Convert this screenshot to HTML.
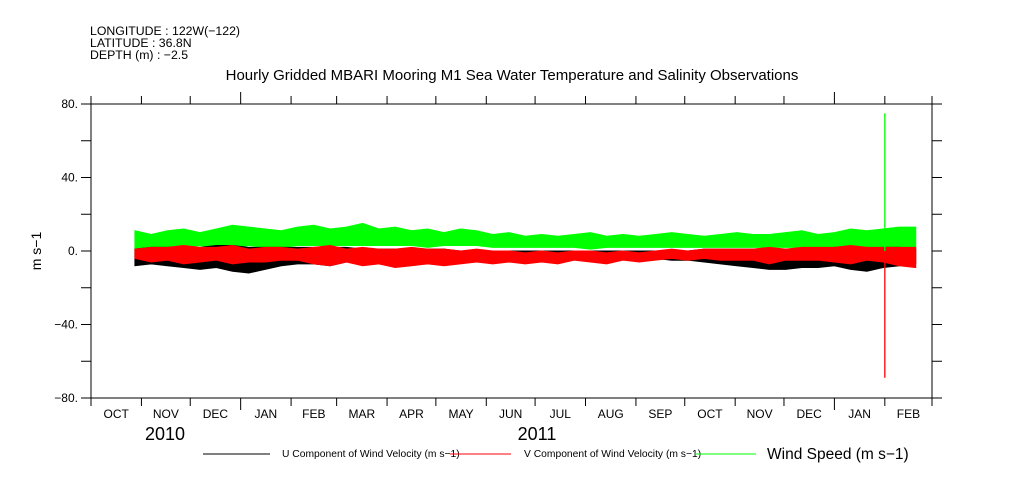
<!DOCTYPE html>
<html><head><meta charset="utf-8"><style>
body{margin:0;background:#fff;}
svg{display:block;font-family:"Liberation Sans",sans-serif;}
</style></head><body>
<svg id="c" width="1009" height="504" viewBox="0 0 1009 504">
<g font-size="12.3" fill="#000">
<text x="90" y="35">LONGITUDE : 122W(−122)</text>
<text x="90" y="47">LATITUDE : 36.8N</text>
<text x="90" y="59">DEPTH (m) : −2.5</text>
<text x="512" y="80" font-size="15" text-anchor="middle">Hourly Gridded MBARI Mooring M1 Sea Water Temperature and Salinity Observations</text>
</g>
<text x="41" y="251" font-size="14" text-anchor="middle" transform="rotate(-90 41 251)">m s−1</text>
<g id="plot"></g>
<g id="axes"></g>
<g font-size="10.3">
<line x1="203" y1="454" x2="270" y2="454" stroke="#000"/>
<text x="282" y="457">U Component of Wind Velocity (m s−1)</text>
<line x1="450" y1="454" x2="511" y2="454" stroke="#f00"/>
<text x="524" y="457">V Component of Wind Velocity (m s−1)</text>
<line x1="695" y1="454" x2="756" y2="454" stroke="#0f0"/>
<text x="767" y="459" font-size="15.5">Wind Speed (m s−1)</text>
</g>
</svg>
<script>
const startDay = 27, stepDays = 10;
const greenHi = [11,9,11,12,10,12,14,13,12,11,13,14,12,13,15,12,13,11,12,10,12,11,9,10,8,9,8,9,10,8,9,8,9,10,9,8,9,10,9,9,10,11,9,10,12,11,12,13,13];
const greenLo = [1,2,2,2,3,2,2,3,2,2,3,3,3,3,3,3,3,3,2,3,3,3,2,2,2,2,2,2,1,2,2,2,2,2,2,2,2,2,2,2,2,2,2,2,2,2,2,2,2];
const redHi = [1,2,2,3,2,2,3,1,2,2,1,2,3,1,2,1,1,2,1,1,0,1,0,0,-1,0,-1,0,0,-1,0,-1,0,1,0,1,1,1,1,2,1,2,2,2,3,2,2,2,2];
const redLo = [-4,-6,-5,-7,-6,-5,-7,-6,-6,-5,-5,-7,-8,-6,-8,-7,-9,-8,-7,-8,-7,-6,-7,-6,-7,-6,-7,-5,-6,-7,-5,-6,-5,-4,-5,-4,-5,-5,-5,-7,-5,-5,-5,-6,-7,-5,-6,-8,-9];
const blackHi = [1,2,2,2,2,3,3,2,2,2,2,2,2,2,1,1,1,1,1,1,0,0,0,0,0,0,0,0,0,0,0,0,0,0,0,1,1,1,1,1,1,1,1,2,2,1,2,2,1];
const blackLo = [-8,-7,-8,-9,-10,-9,-11,-12,-10,-8,-7,-7,-8,-6,-6,-5,-5,-5,-4,-4,-3,-3,-3,-3,-2,-2,-2,-2,-2,-3,-3,-4,-4,-5,-5,-6,-7,-8,-9,-10,-10,-9,-9,-8,-10,-11,-9,-8,-7];
const spikeDays = [488];
const spikeHi = [75];
const spikeLo = [-69];
const yTicks = [80,40,0,-40,-80];
const yTickLabels = ["80.","40.","0.","-40.","-80."];
const monthLabels = ["OCT","NOV","DEC","JAN","FEB","MAR","APR","MAY","JUN","JUL","AUG","SEP","OCT","NOV","DEC","JAN","FEB"];
const monthStarts = [0,31,61,92,123,151,182,212,243,273,304,335,365,396,426,457,488,517];
const yearLabels = ["2010","2011"];

const X0=91,X1=932,Y0=104,Y1=398,D=517;
const xs=d=>X0+(X1-X0)*d/D;
const ys=v=>251-(v)*(Y1-Y0)/160;
const NS="http://www.w3.org/2000/svg";
function mk(tag,attrs,parent){const e=document.createElementNS(NS,tag);for(const k in attrs)e.setAttribute(k,attrs[k]);parent.appendChild(e);return e;}
const plot=document.getElementById('plot'), axes=document.getElementById('axes');
function band(hi,lo,color,name){
  let pts=[];
  hi.forEach((v,i)=>pts.push(xs(startDay+i*stepDays)+','+ys(v)));
  for(let i=lo.length-1;i>=0;i--)pts.push(xs(startDay+i*stepDays)+','+ys(lo[i]));
  const p=mk('polygon',{points:pts.join(' '),fill:color,stroke:color,'stroke-width':1},plot);
  
  
}
band(greenHi,greenLo,'#00ff00','wind-speed-series');
band(blackHi,blackLo,'#000000','u-component-series');
band(redHi,redLo,'#ff0000','v-component-series');
spikeDays.forEach((d,i)=>{
  const a=mk('line',{x1:xs(d),x2:xs(d),y1:ys(spikeHi[i]),y2:ys(0),stroke:'#00ff00','stroke-width':1.3},plot);
  
  
  const b=mk('line',{x1:xs(d),x2:xs(d),y1:ys(0),y2:ys(spikeLo[i]),stroke:'#ff0000','stroke-width':1.3},plot);
  
  
});
const fr=mk('rect',{x:X0,y:Y0,width:X1-X0,height:Y1-Y0,fill:'none',stroke:'#000','stroke-width':1},axes);


for(let v=-80;v<=80;v+=20){
  const y=ys(v);
  const t=mk('line',{x1:X0-10,x2:X0,y1:y,y2:y,stroke:'#000'},axes);
  
  
  const t2=mk('line',{x1:X1,x2:X1+10,y1:y,y2:y,stroke:'#000'},axes);
  
  
}
yTicks.forEach((v,i)=>{
  const tx=mk('text',{x:X0-13,y:ys(v)+4,'text-anchor':'end','font-size':12},axes);
  tx.textContent=yTickLabels[i].replace('-','−');
  
  
});
monthStarts.forEach((d,i)=>{
  const x=xs(d);
  const big=(i===3||i===15);
  const len=big?12:8;
  const a=mk('line',{x1:x,x2:x,y1:Y1,y2:Y1+len,stroke:'#000'},axes);
  
  
  const b=mk('line',{x1:x,x2:x,y1:Y0-len,y2:Y0,stroke:'#000'},axes);
  
  
});
monthLabels.forEach((m,i)=>{
  const x=(xs(monthStarts[i])+xs(monthStarts[i+1]))/2;
  const t=mk('text',{x:x,y:418,'text-anchor':'middle','font-size':12},axes);
  t.textContent=m;
  
  
});
yearLabels.forEach((yr,i)=>{
  const t=mk('text',{x:i===0?165:537,y:440,'text-anchor':'middle','font-size':18},axes);
  t.textContent=yr;
  
  
});
</script>
</body></html>
